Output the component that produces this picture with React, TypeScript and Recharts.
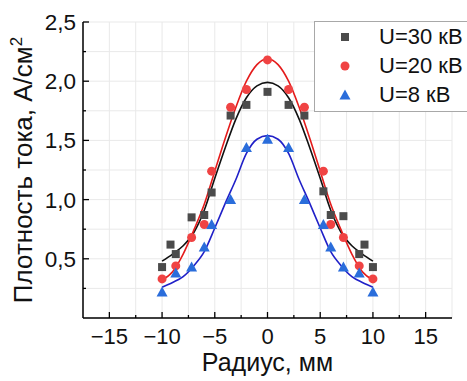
import { ComposedChart, Line, Scatter, XAxis, YAxis, CartesianGrid } from 'recharts'

// measured points: radius (mm)
const radius30 = [-10, -9.2, -8.7, -7.2, -6, -5.3, -3.5, -2, 0, 2, 3.5, 5.3, 6, 7.2, 8.7, 9.2, 10]
const density30 = [0.43, 0.62, 0.54, 0.85, 0.87, 1.06, 1.71, 1.8, 1.91, 1.8, 1.71, 1.07, 0.87, 0.86, 0.54, 0.62, 0.43]

const radius20 = [-10, -8.7, -7.2, -6, -5.3, -3.5, -2, 0, 2, 3.5, 5.3, 6, 7.2, 8.7, 10]
const density20 = [0.33, 0.44, 0.68, 0.79, 1.24, 1.78, 1.93, 2.18, 1.93, 1.78, 1.24, 0.79, 0.68, 0.44, 0.33]

const radius8 = [-10, -8.7, -7.2, -6, -5.3, -3.5, -2, 0, 2, 3.5, 5.3, 6, 7.2, 8.7, 10]
const density8 = [0.22, 0.38, 0.43, 0.6, 0.79, 1.0, 1.44, 1.51, 1.44, 1.0, 0.79, 0.6, 0.43, 0.38, 0.22]

// fitted curves
const fitRadius = [-10, -9, -8, -7, -6, -5, -4, -3, -2, -1, 0, 1, 2, 3, 4, 5, 6, 7, 8, 9, 10]
const fit30 = [0.48, 0.54, 0.61, 0.72, 0.91, 1.18, 1.44, 1.68, 1.86, 1.96, 1.99, 1.96, 1.86, 1.68, 1.44, 1.18, 0.91, 0.72, 0.61, 0.54, 0.48]
const fit20 = [0.32, 0.39, 0.54, 0.74, 0.96, 1.24, 1.52, 1.78, 2.0, 2.14, 2.19, 2.14, 2.0, 1.78, 1.52, 1.24, 0.96, 0.74, 0.54, 0.39, 0.32]
const fit8 = [0.26, 0.3, 0.35, 0.44, 0.56, 0.76, 0.97, 1.17, 1.39, 1.51, 1.54, 1.51, 1.39, 1.17, 0.97, 0.76, 0.56, 0.44, 0.35, 0.3, 0.26]

const xTicks = [-15, -12.5, -10, -7.5, -5, -2.5, 0, 2.5, 5, 7.5, 10, 12.5, 15]
const yTicks = [0.25, 0.5, 0.75, 1, 1.25, 1.5, 1.75, 2, 2.25, 2.5]

const legendItems = ['U=30 кВ', 'U=20 кВ', 'U=8 кВ']

const toPoints = (xs: number[], ys: number[]) => xs.map((x, i) => ({ x, y: ys[i] }))

const FONT = '"Liberation Sans", Arial, sans-serif'
const C_BLACK = '#111111'
const C_GRAY = '#4b4b4b'
const C_RED = '#e41b1b'
const C_REDPT = '#f04343'
const C_BLUE = '#2020c8'
const C_BLUEPT = '#2a6ddb'

const fmtX = (v: number) => (v < 0 ? '\u2212' + Math.abs(v) : String(v))
const fmtY = (v: number) => v.toFixed(1).replace('.', ',')

function XTick(props: any) {
  const { x, y, payload } = props
  const major = payload.value % 5 === 0
  return (
    <g>
      <line x1={x} x2={x} y1={y} y2={y - (major ? 6 : 3)} stroke="#000" strokeWidth={1.3} />
      {major && (
        <text x={x} y={y + 26} textAnchor="middle" fontSize={22} fontFamily={FONT} fill="#111">
          {fmtX(payload.value)}
        </text>
      )}
    </g>
  )
}

function YTick(props: any) {
  const { x, y, payload } = props
  const major = Math.abs(payload.value * 2 - Math.round(payload.value * 2)) < 1e-6
  return (
    <g>
      <line x1={x} x2={x + (major ? 6 : 3)} y1={y} y2={y} stroke="#000" strokeWidth={1.3} />
      {major && (
        <text x={x - 7} y={y + 8} textAnchor="end" fontSize={22.5} fontFamily={FONT} fill="#111">
          {fmtY(payload.value)}
        </text>
      )}
    </g>
  )
}

const Square = (props: any) => <rect x={props.cx - 4} y={props.cy - 4} width={8} height={8} fill={C_GRAY} />
const Dot = (props: any) => <circle cx={props.cx} cy={props.cy} r={4.5} fill={C_REDPT} />
const Tri = (props: any) => (
  <polygon
    points={`${props.cx},${props.cy - 5.5} ${props.cx - 5.5},${props.cy + 4.5} ${props.cx + 5.5},${props.cy + 4.5}`}
    fill={C_BLUEPT}
  />
)

function LegendBox() {
  const markers = [
    <rect x={4} y={4} width={8} height={8} fill={C_GRAY} />,
    <circle cx={8} cy={8} r={4.5} fill={C_REDPT} />,
    <polygon points="8,2.5 2.5,12.5 13.5,12.5" fill={C_BLUEPT} />,
  ]
  return (
    <div
      style={{
        position: 'absolute',
        left: 314,
        top: 21,
        border: '1px solid #a8a8a8',
        background: '#fff',
        width: 170,
        height: 91,
        boxSizing: 'border-box',
        paddingTop: 0,
        fontFamily: FONT,
      }}
    >
      {legendItems.map((label, i) => (
        <div key={label} style={{ display: 'flex', alignItems: 'center', height: 29 }}>
          <svg width={16} height={16} style={{ marginLeft: 22, marginRight: 26 }}>
            {markers[i]}
          </svg>
          <span style={{ fontSize: 22, color: '#111' }}>{label}</span>
        </div>
      ))}
    </div>
  )
}

export default function App() {
  return (
    <div style={{ position: 'fixed', left: 0, top: 0, width: 467, height: 381, background: '#fff', overflow: 'hidden' }}>
      <ComposedChart width={467} height={381} margin={{ top: 22, right: 15, bottom: 3, left: 23 }}>
        <CartesianGrid stroke="#e9e9e9" strokeWidth={1} />
        <XAxis
          type="number"
          dataKey="x"
          domain={[-17.5, 17.5]}
          ticks={xTicks}
          interval={0}
          tick={<XTick />}
          tickLine={false}
          tickSize={0}
          tickMargin={0}
          height={60}
          axisLine={{ stroke: '#000', strokeWidth: 1.5 }}
          allowDataOverflow
          label={{
            content: (p: any) => (
              <text
                x={p.viewBox.x + p.viewBox.width / 2}
                y={p.viewBox.y + 53}
                textAnchor="middle"
                fontSize={25}
                fontFamily={FONT}
                fill="#111"
              >
                Радиус, мм
              </text>
            ),
          }}
        />
        <YAxis
          type="number"
          domain={[0, 2.5]}
          ticks={yTicks}
          interval={0}
          tick={<YTick />}
          tickLine={false}
          tickSize={0}
          tickMargin={0}
          width={60}
          axisLine={{ stroke: '#000', strokeWidth: 1.5 }}
          allowDataOverflow
          label={{
            content: () => (
              <text transform="translate(32,170) rotate(-90)" textAnchor="middle" fontSize={26} fontFamily={FONT} fill="#111">
                Плотность тока, А/см
                <tspan dy={-10} fontSize={17}>2</tspan>
              </text>
            ),
          }}
        />
        <Scatter data={toPoints(radius30, density30)} dataKey="y" shape={Square} isAnimationActive={false} />
        <Scatter data={toPoints(radius20, density20)} dataKey="y" shape={Dot} isAnimationActive={false} />
        <Scatter data={toPoints(radius8, density8)} dataKey="y" shape={Tri} isAnimationActive={false} />
        <Line data={toPoints(fitRadius, fit30)} dataKey="y" type="monotone" stroke={C_BLACK} strokeWidth={1.6} dot={false} isAnimationActive={false} />
        <Line data={toPoints(fitRadius, fit20)} dataKey="y" type="monotone" stroke={C_RED} strokeWidth={1.6} dot={false} isAnimationActive={false} />
        <Line data={toPoints(fitRadius, fit8)} dataKey="y" type="monotone" stroke={C_BLUE} strokeWidth={1.6} dot={false} isAnimationActive={false} />
      </ComposedChart>
      <LegendBox />
    </div>
  )
}
